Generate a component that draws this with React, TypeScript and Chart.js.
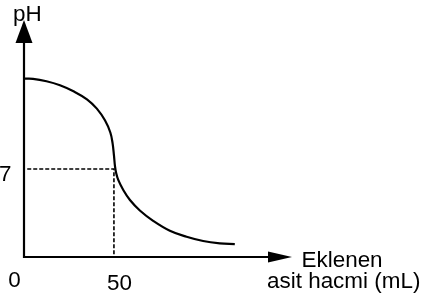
import React, { useEffect, useRef } from "react";
import { Chart, registerables } from "chart.js";

Chart.register(...registerables);

// Titration curve: added acid volume (mL) vs pH
const volumes = [0, 5, 12.5, 20, 27.5, 35, 40.5, 45, 48, 49.3, 50, 50.6, 51.2, 52.4, 55.2, 58.9, 64.4, 71.8, 81.1, 90.4, 99.6, 108.9, 117.2];
const phValues = [14.18, 14.17, 13.98, 13.66, 13.18, 12.54, 11.8, 10.87, 9.9, 9.0, 8.1, 7.2, 6.7, 6.13, 5.33, 4.53, 3.7, 2.88, 2.09, 1.61, 1.27, 1.09, 1.03];

// Reference guide (equivalence point)
const guideVolume = 50;
const guidePH = 7;

const xTickLabels = ["50"];
const xTickValues = [50];
const yTickLabels = ["7"];
const yTickValues = [7];
const originLabel = "0";
const yAxisTitle = "pH";
const xAxisTitleLines = ["Eklenen", "asit hacmi (mL)"];

const X_MAX = 149;
const Y_MAX = 18.85;

const FONT = '22px "Liberation Sans", Arial, sans-serif';
const STRETCH = 1.02;

function drawText(ctx: CanvasRenderingContext2D, text: string, x: number, y: number, align: CanvasTextAlign) {
  ctx.save();
  ctx.font = FONT;
  ctx.fillStyle = "#000";
  ctx.textBaseline = "alphabetic";
  ctx.textAlign = align;
  ctx.translate(x, y);
  ctx.scale(STRETCH, 1);
  ctx.fillText(text, 0, 0);
  ctx.restore();
}

const axesPlugin = {
  id: "arrowAxes",
  afterDatasetsDraw(chart: any) {
    const ctx: CanvasRenderingContext2D = chart.ctx;
    const xs = chart.scales.x;
    const ys = chart.scales.y;
    const x0 = xs.getPixelForValue(0);
    const y0 = ys.getPixelForValue(0);
    const xEnd = xs.getPixelForValue(X_MAX);
    const yEnd = ys.getPixelForValue(Y_MAX);

    ctx.save();
    ctx.strokeStyle = "#000";
    ctx.fillStyle = "#000";
    ctx.lineWidth = 2.2;
    ctx.lineCap = "butt";
    // y axis
    ctx.beginPath();
    ctx.moveTo(x0, y0 + 1);
    ctx.lineTo(x0, yEnd + 20);
    ctx.stroke();
    ctx.beginPath();
    ctx.moveTo(x0, yEnd);
    ctx.lineTo(x0 - 8.5, yEnd + 23);
    ctx.lineTo(x0 + 8.5, yEnd + 23);
    ctx.closePath();
    ctx.fill();
    // x axis
    ctx.beginPath();
    ctx.moveTo(x0 - 1, y0);
    ctx.lineTo(xEnd - 20, y0);
    ctx.stroke();
    ctx.beginPath();
    ctx.moveTo(xEnd, y0);
    ctx.lineTo(xEnd - 24, y0 - 5.5);
    ctx.lineTo(xEnd - 24, y0 + 5.5);
    ctx.closePath();
    ctx.fill();
    ctx.restore();

    // labels
    drawText(ctx, yAxisTitle, x0 - 11, yEnd + 1, "left");
    yTickValues.forEach((v, i) => {
      drawText(ctx, yTickLabels[i], x0 - 12.5, ys.getPixelForValue(v) + 12.5, "right");
    });
    xTickValues.forEach((v, i) => {
      drawText(ctx, xTickLabels[i], xs.getPixelForValue(v) + 5.5, y0 + 33, "center");
    });
    drawText(ctx, originLabel, x0 - 9.5, y0 + 30, "center");
    drawText(ctx, xAxisTitleLines[0], xEnd + 9.5, y0 + 10, "left");
    drawText(ctx, xAxisTitleLines[1], xEnd - 25, y0 + 31, "left");
  },
};

export default function App() {
  const ref = useRef<HTMLCanvasElement | null>(null);

  useEffect(() => {
    if (!ref.current) return;
    const curve = volumes.map((v, i) => ({ x: v, y: phValues[i] }));
    const guide = [
      { x: 1.8, y: guidePH },
      { x: guideVolume, y: guidePH },
      { x: guideVolume, y: 0 },
    ];
    const chart = new Chart(ref.current, {
      type: "line",
      data: {
        datasets: [
          {
            data: guide,
            borderColor: "#000",
            borderWidth: 1.6,
            borderDash: [4, 2],
            pointRadius: 0,
            tension: 0,
            clip: false as any,
          },
          {
            data: curve,
            borderColor: "#000",
            borderWidth: 2.2,
            pointRadius: 0,
            tension: 0.4,
            clip: false as any,
          },
        ],
      },
      options: {
        animation: false,
        responsive: false,
        maintainAspectRatio: false,
        devicePixelRatio: 1,
        layout: { padding: { left: 24, right: 137, top: 20, bottom: 47 } },
        plugins: { legend: { display: false }, tooltip: { enabled: false } },
        scales: {
          x: { type: "linear", display: false, min: 0, max: X_MAX },
          y: { type: "linear", display: false, min: 0, max: Y_MAX },
        },
      },
      plugins: [axesPlugin],
    });
    return () => chart.destroy();
  }, []);

  return (
    <div style={{ position: "fixed", left: 0, top: 0, width: 429, height: 304, background: "#fff" }}>
      <canvas ref={ref} width={429} height={304} style={{ display: "block" }} />
    </div>
  );
}
